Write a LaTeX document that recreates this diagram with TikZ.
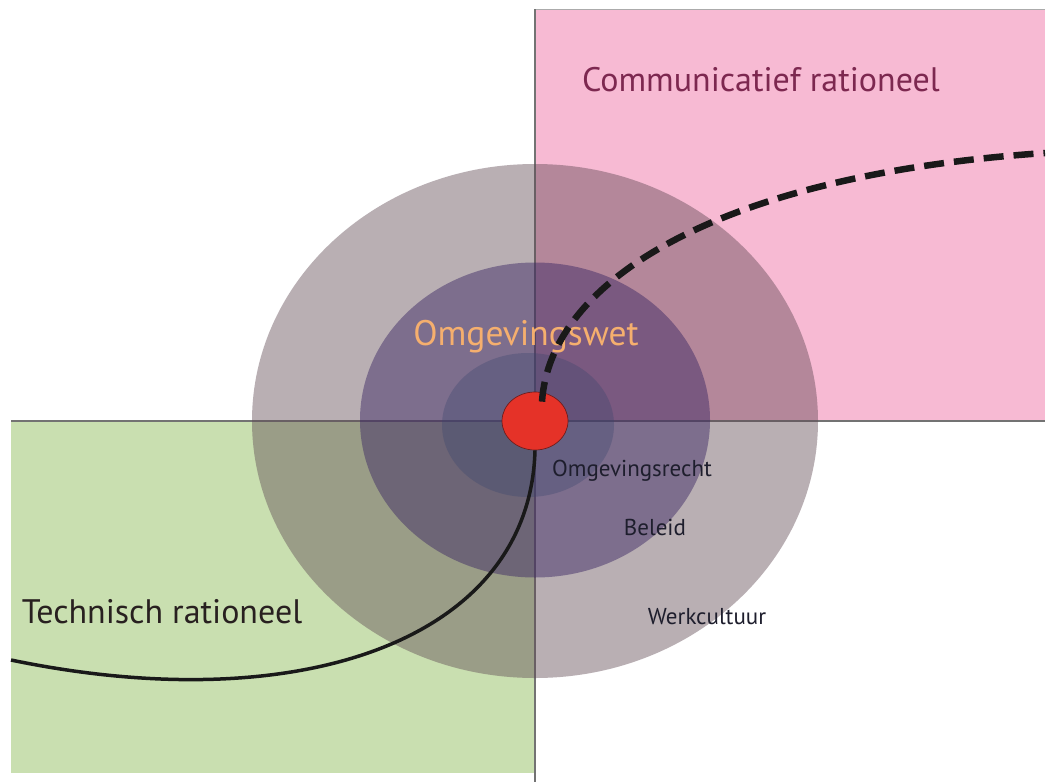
\documentclass[tikz,border=0pt]{standalone}
\usepackage{fontspec}
\setmainfont{PT Sans}
\usetikzlibrary{shapes.geometric}
\definecolor{pinkbg}{RGB}{247,186,211}
\definecolor{greenbg}{RGB}{201,223,176}
\definecolor{outerc}{RGB}{93,70,81}
\definecolor{middlec}{RGB}{60,40,100}
\definecolor{innerc}{RGB}{60,70,110}
\definecolor{redc}{RGB}{229,50,40}
\definecolor{commc}{RGB}{125,40,80}
\definecolor{omgc}{RGB}{245,175,110}
\definecolor{darktxt}{RGB}{40,32,32}
\definecolor{labtxt}{RGB}{30,30,45}
\definecolor{axisc}{RGB}{115,115,115}
\tikzset{
  ring/.style={ellipse, inner sep=0pt, draw=none},
  axisline/.style={draw=axisc, line width=1.2pt},
  bigtitle/.style={font=\fontsize{34}{38}\selectfont, inner sep=0pt},
  smalllab/.style={font=\fontsize{23}{26}\selectfont, text=labtxt, inner sep=0pt},
}
\begin{document}
\begin{tikzpicture}[x=1pt,y=-1pt]
\useasboundingbox (0,0) rectangle (1052,782);
\fill[white] (0,0) rectangle (1052,782);
% quadrants
\fill[pinkbg] (536,9) rectangle (1045,421);
\fill[greenbg] (11,421) rectangle (535,773);
\draw[axisline] (535,9) -- (535,782);
\draw[axisline] (11,421) -- (1045,421);
\draw[axisc!60, line width=0.6pt] (536,9) -- (1045,9);
% rings
\node[ring, fill=outerc, fill opacity=0.43, minimum width=566pt, minimum height=514pt] (outer) at (535,421) {};
\node[ring, fill=middlec, fill opacity=0.48, minimum width=350pt, minimum height=315pt] (middle) at (535,420) {};
\node[ring, fill=innerc, fill opacity=0.35, minimum width=172pt, minimum height=144pt] (inner) at (528,425) {};
% labels
\node[bigtitle, text=commc] (comm) at (761,80) {Communicatief rationeel};
\node[bigtitle, text=darktxt] (tech) at (162,612) {Technisch rationeel};
\node[font=\fontsize{35.5}{38}\selectfont, text=omgc, inner sep=0pt] (omg) at (526,337) {Omgevingswet};
\node[smalllab] (recht) at (632,471) {Omgevingsrecht};
\node[smalllab] (beleid) at (655,527) {Beleid};
\node[smalllab] (werk) at (707,617) {Werkcultuur};
% centre
\node[ellipse, fill=redc, draw={rgb,255:red,110;green,30;blue,30}, line width=0.7pt, minimum width=66pt, minimum height=58pt, inner sep=0pt] (core) at (535,421) {};
% curves
\coordinate (techend) at (11,660);
\coordinate (commend) at (1045,153);
\draw[line width=3.5pt, black!90] (core.south) .. controls (530,640) and (300,720) .. (techend);
\draw[line width=6.5pt, black!90, dash pattern=on 20pt off 10pt] ([xshift=7pt,yshift=-10pt]core.north) .. controls (550,280) and (720,175) .. (commend);
\end{tikzpicture}
\end{document}
